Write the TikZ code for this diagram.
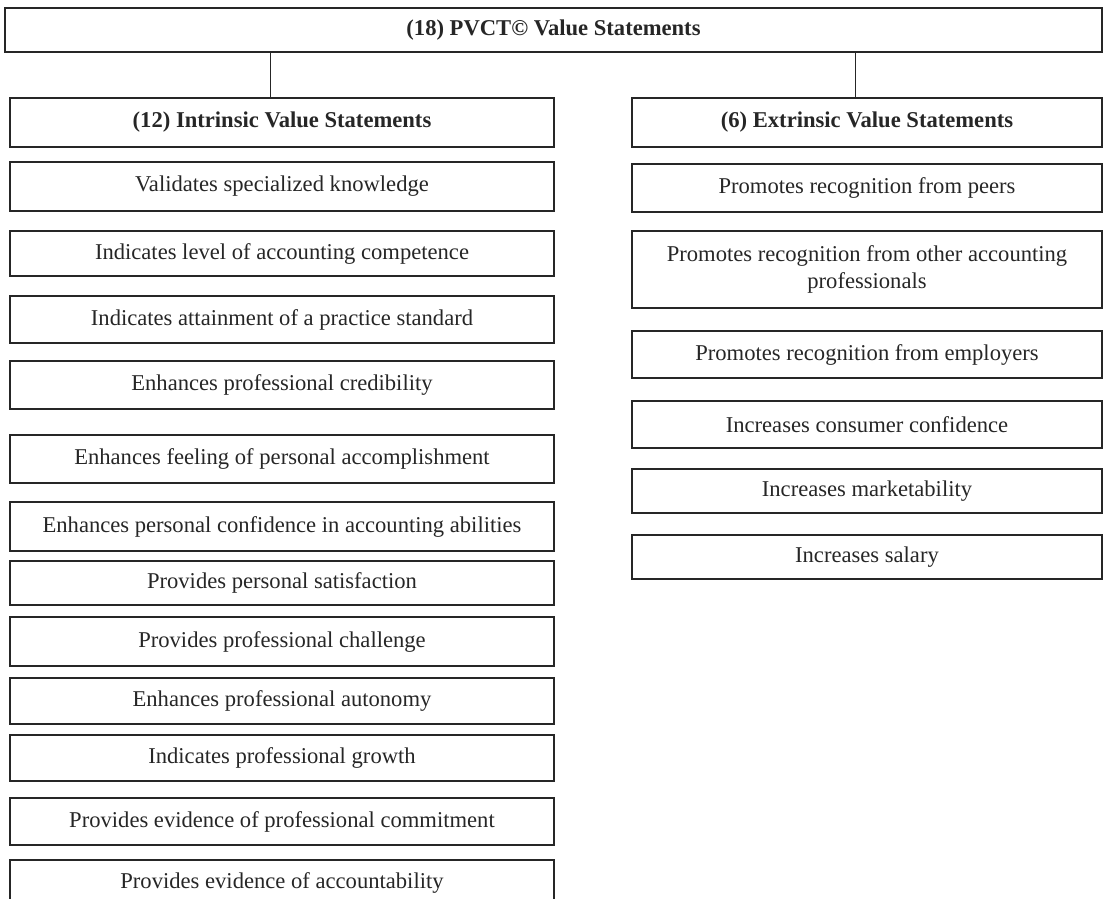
\documentclass[tikz,border=0pt]{standalone}
\usepackage{fontspec}
\setmainfont{Liberation Serif}
\tikzset{
  vbox/.style={draw=black!85, line width=2.2pt, inner sep=0pt, align=center, text=black!85,
    font=\fontsize{22.6}{27}\selectfont},
  hbox/.style={vbox, font=\fontsize{22.6}{27}\selectfont\bfseries},
  link/.style={draw=black!85, line width=1pt}
}
\newcommand\mybox[7][vbox]{%
  \node[#1, minimum width={(#5)-(#3)}, minimum height={(#6)-(#4)}] (#2) at ({((#3)+(#5))/2},{((#4)+(#6))/2}) {#7};}
\begin{document}
\begin{tikzpicture}[x=1pt,y=-1pt]
\useasboundingbox (0,0) rectangle (1104,898);
\clip (0,0) rectangle (1104,898);
\mybox[hbox]{top}{5}{8}{1102}{52}{(18) PVCT\textcopyright{} Value Statements}
\mybox[hbox]{intr}{10}{98}{554}{147}{(12) Intrinsic Value Statements}
\mybox[hbox]{extr}{632}{98}{1102}{147}{(6) Extrinsic Value Statements}
\coordinate (c1) at (270,0);
\coordinate (c2) at (855,0);
\draw[link] (top.south -| c1) -- (intr.north -| c1);
\draw[link] (top.south -| c2) -- (extr.north -| c2);
% left column
\mybox{l1}{10}{162}{554}{211}{Validates specialized knowledge}
\mybox{l2}{10}{231}{554}{276}{Indicates level of accounting competence}
\mybox{l3}{10}{296}{554}{343}{Indicates attainment of a practice standard}
\mybox{l4}{10}{361}{554}{409}{Enhances professional credibility}
\mybox{l5}{10}{435}{554}{483}{Enhances feeling of personal accomplishment}
\mybox{l6}{10}{502}{554}{551}{Enhances personal confidence in accounting abilities}
\mybox{l7}{10}{561}{554}{605}{Provides personal satisfaction}
\mybox{l8}{10}{617}{554}{666}{Provides professional challenge}
\mybox{l9}{10}{678}{554}{724}{Enhances professional autonomy}
\mybox{l10}{10}{735}{554}{781}{Indicates professional growth}
\mybox{l11}{10}{798}{554}{845}{Provides evidence of professional commitment}
\mybox{l12}{10}{860}{554}{906}{Provides evidence of accountability}
% right column
\mybox{r1}{632}{164}{1102}{212}{Promotes recognition from peers}
\mybox{r2}{632}{231}{1102}{308}{Promotes recognition from other accounting\\professionals}
\mybox{r3}{632}{331}{1102}{378}{Promotes recognition from employers}
\mybox{r4}{632}{401}{1102}{448}{Increases consumer confidence}
\mybox{r5}{632}{469}{1102}{513}{Increases marketability}
\mybox{r6}{632}{535}{1102}{579}{Increases salary}
\end{tikzpicture}
\end{document}
